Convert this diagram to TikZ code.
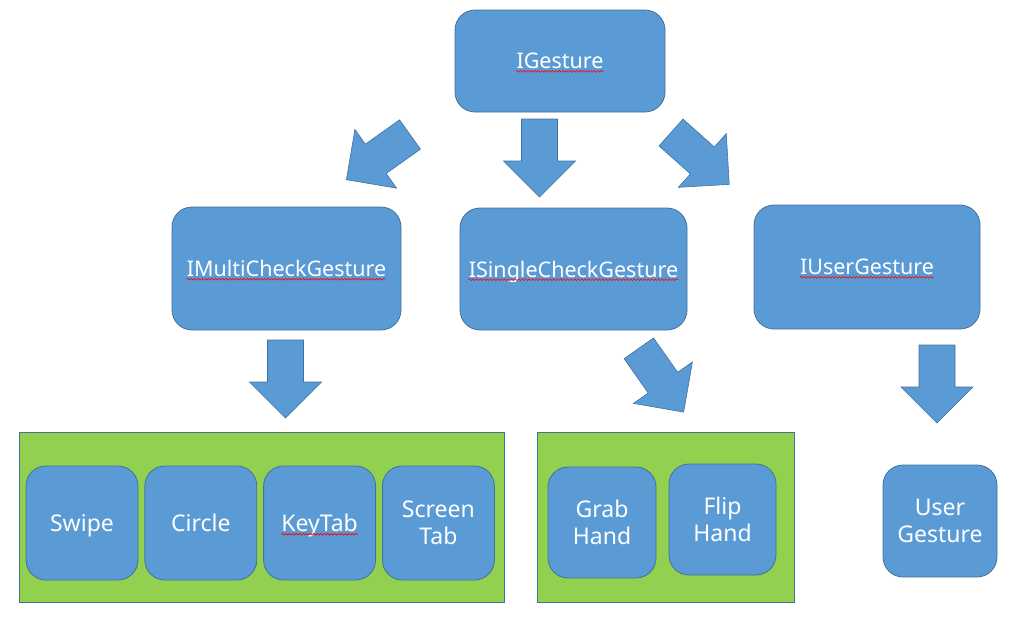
\documentclass[tikz,border=0pt]{standalone}
\usepackage{fontspec}
\setmainfont{Noto Sans}
\usepackage{tikz}
\usetikzlibrary{positioning,decorations.pathmorphing}
\definecolor{boxblue}{HTML}{5B9BD5}
\definecolor{lineblue}{HTML}{41719C}
\definecolor{grpgreen}{HTML}{92D050}

\begin{document}
\begin{tikzpicture}[
  x=1pt, y=-1pt,
  node distance=6pt and 6pt,
  gbox/.style={draw=lineblue,fill=boxblue,rounded corners=20pt,text=white,align=center,
    font=\fontsize{21.5}{27}\selectfont,line width=0.8pt,text depth=0pt},
  sbox/.style={gbox,minimum width=112pt,minimum height=114pt,
    font=\fontsize{23}{27}\selectfont},
  txt/.style={inner sep=0pt,text=white,font=\fontsize{21.5}{27}\selectfont,text depth=0pt},
  squig/.style={draw=red,line width=0.6pt,decorate,
    decoration={snake,segment length=3.5pt,amplitude=0.9pt}},
  grp/.style={draw=lineblue,fill=grpgreen,line width=0.8pt},
  afill/.style={draw=lineblue,fill=boxblue,line width=0.6pt},
  barrow/.pic={\path[afill] (0,18) -- (42,18) -- (42,36) -- (78,0)
    -- (42,-36) -- (42,-18) -- (0,-18) -- cycle;}
]
\useasboundingbox (0,0) rectangle (1028,625);

\node[gbox,minimum width=210pt,minimum height=102pt] (ig) at (560,61) {};
\node[gbox,minimum width=229pt,minimum height=123pt] (imc) at (286.5,268.5) {};
\node[gbox,minimum width=227pt,minimum height=122pt] (isc) at (573.5,269) {};
\node[gbox,minimum width=226pt,minimum height=124pt] (iug) at (867,267) {};
\node[txt] (igt) at (ig) {IGesture};
\node[txt] (imct) at (imc) {IMultiCheckGesture};
\node[txt] (isct) at (isc) {ISingleCheckGesture};
\node[txt] (iugt) at (iug) {IUserGesture};

% groups
\node[grp,minimum width=485pt,minimum height=170pt] (multi) at (261.5,517) {};
\node[grp,minimum width=257pt,minimum height=170pt] (single) at (665.5,517) {};

\node[sbox] (swipe) at (82,523) {Swipe};
\node[sbox,right=of swipe] (circle) {Circle};
\node[sbox,right=of circle] (keytab) {};
\node[txt,font=\fontsize{23}{27}\selectfont] (keytabt) at (keytab) {KeyTab};
\node[sbox,right=of keytab] (screentab) {Screen\\Tab};

\node[sbox,minimum width=108pt,minimum height=111pt] (grab) at (602,522.5) {Grab\\Hand};
\node[sbox,minimum width=107pt,minimum height=111pt] (flip) at (722.5,519.5) {Flip\\Hand};

\node[sbox,minimum width=114pt,minimum height=112pt] (user) at (940,521) {User\\Gesture};

% spell-check marks
\foreach \t in {igt,imct,isct,iugt,keytabt}
  \draw[squig] ([yshift=-2.5pt]\t.base west) -- ([yshift=-2.5pt]\t.base east);

% block arrows
\pic[rotate=215.4] (a1) at (410,134.5) {barrow};
\pic[rotate=-90] (a2) at (539.5,119) {barrow};
\pic[rotate=-41.7] (a3) at (671,132.5) {barrow};
\pic[rotate=-90] (a4) at (285.5,340) {barrow};
\pic[rotate=-54.9] (a5) at (638.8,348.3) {barrow};
\pic[rotate=-90] (a6) at (937,345) {barrow};

\end{tikzpicture}
\end{document}
